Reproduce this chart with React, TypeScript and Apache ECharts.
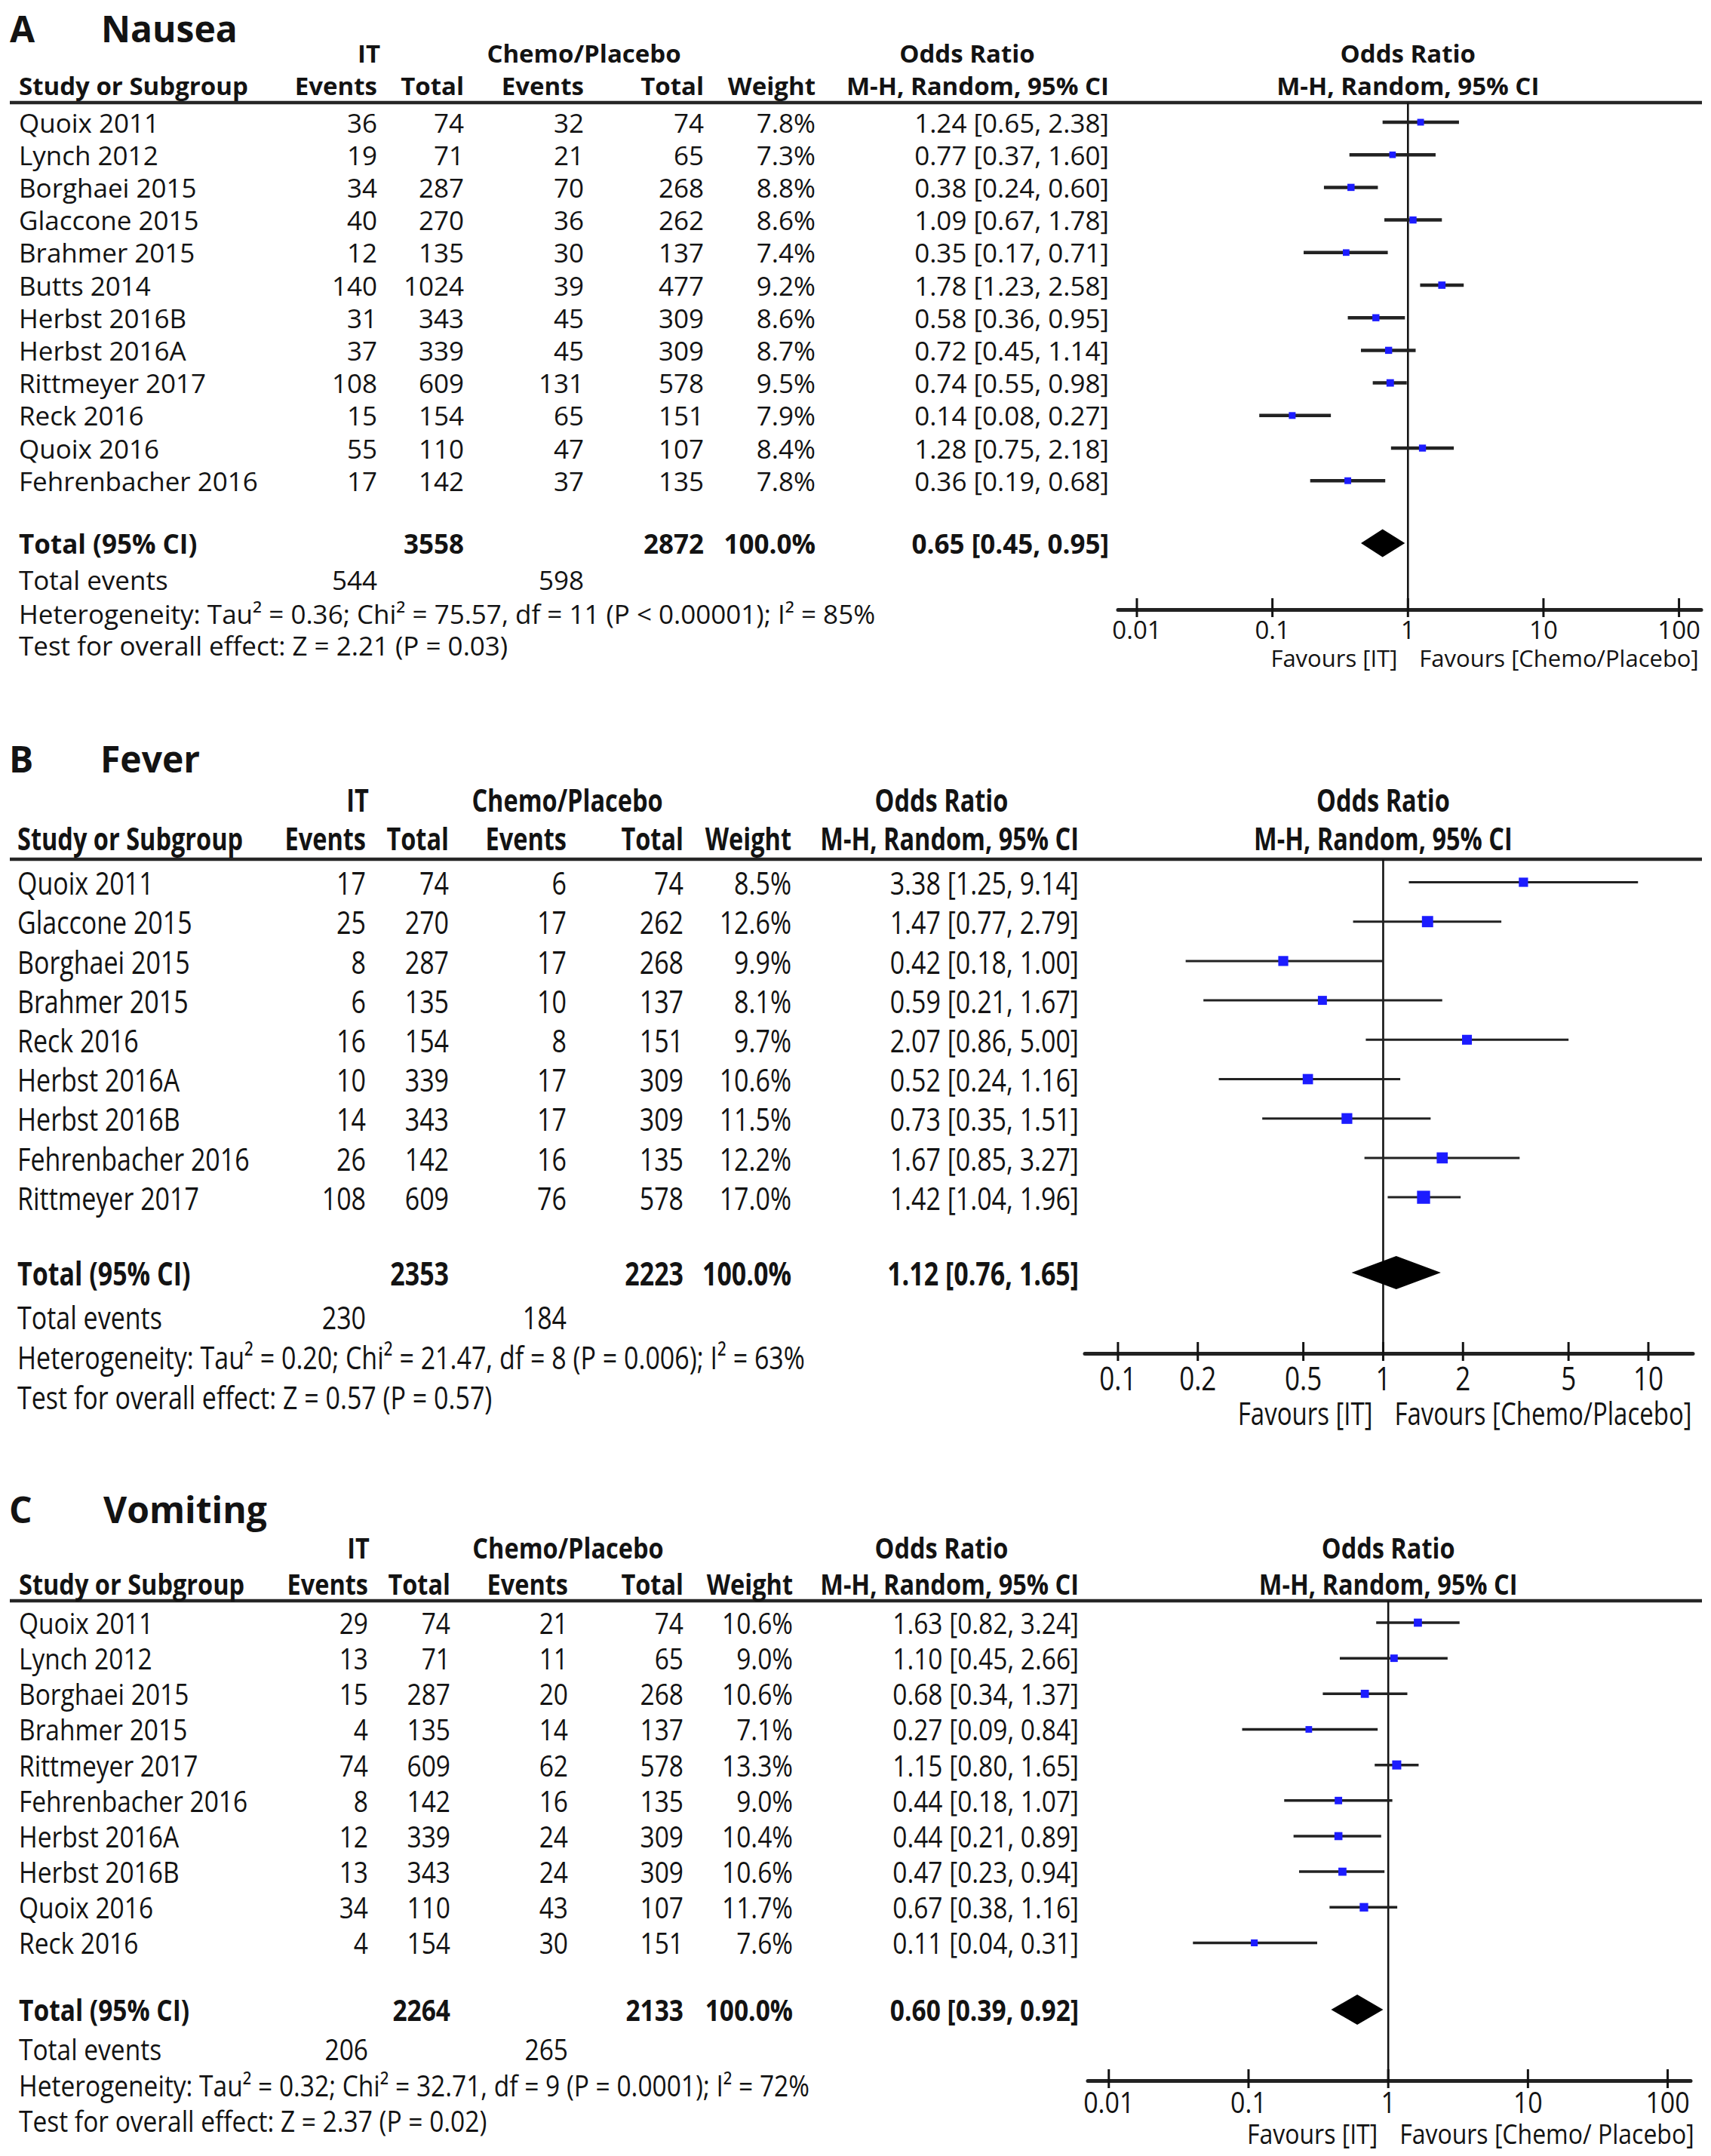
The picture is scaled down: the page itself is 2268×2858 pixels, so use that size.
import React, { useEffect, useRef } from 'react';
import * as echarts from 'echarts';

// ---------------- DATA ----------------
// Panel A: Nausea
const studiesA = ['Quoix 2011', 'Lynch 2012', 'Borghaei 2015', 'Glaccone 2015', 'Brahmer 2015', 'Butts 2014', 'Herbst 2016B', 'Herbst 2016A', 'Rittmeyer 2017', 'Reck 2016', 'Quoix 2016', 'Fehrenbacher 2016'];
const itEventsA = [36, 19, 34, 40, 12, 140, 31, 37, 108, 15, 55, 17];
const itTotalA = [74, 71, 287, 270, 135, 1024, 343, 339, 609, 154, 110, 142];
const chEventsA = [32, 21, 70, 36, 30, 39, 45, 45, 131, 65, 47, 37];
const chTotalA = [74, 65, 268, 262, 137, 477, 309, 309, 578, 151, 107, 135];
const weightA = [7.8, 7.3, 8.8, 8.6, 7.4, 9.2, 8.6, 8.7, 9.5, 7.9, 8.4, 7.8];
const orA = [1.24, 0.77, 0.38, 1.09, 0.35, 1.78, 0.58, 0.72, 0.74, 0.14, 1.28, 0.36];
const loA = [0.65, 0.37, 0.24, 0.67, 0.17, 1.23, 0.36, 0.45, 0.55, 0.08, 0.75, 0.19];
const hiA = [2.38, 1.6, 0.6, 1.78, 0.71, 2.58, 0.95, 1.14, 0.98, 0.27, 2.18, 0.68];
const totalA = [3558, 2872, 100.0];
const totalOrA = [0.65, 0.45, 0.95];
const totalEventsA = [544, 598];
const hetA = 'Heterogeneity: Tau² = 0.36; Chi² = 75.57, df = 11 (P < 0.00001); I² = 85%';
const testA = 'Test for overall effect: Z = 2.21 (P = 0.03)';
const ticksA = [0.01, 0.1, 1, 10, 100];
const tickLabelsA = ['0.01', '0.1', '1', '10', '100'];

// Panel B: Fever
const studiesB = ['Quoix 2011', 'Glaccone 2015', 'Borghaei 2015', 'Brahmer 2015', 'Reck 2016', 'Herbst 2016A', 'Herbst 2016B', 'Fehrenbacher 2016', 'Rittmeyer 2017'];
const itEventsB = [17, 25, 8, 6, 16, 10, 14, 26, 108];
const itTotalB = [74, 270, 287, 135, 154, 339, 343, 142, 609];
const chEventsB = [6, 17, 17, 10, 8, 17, 17, 16, 76];
const chTotalB = [74, 262, 268, 137, 151, 309, 309, 135, 578];
const weightB = [8.5, 12.6, 9.9, 8.1, 9.7, 10.6, 11.5, 12.2, 17.0];
const orB = [3.38, 1.47, 0.42, 0.59, 2.07, 0.52, 0.73, 1.67, 1.42];
const loB = [1.25, 0.77, 0.18, 0.21, 0.86, 0.24, 0.35, 0.85, 1.04];
const hiB = [9.14, 2.79, 1.0, 1.67, 5.0, 1.16, 1.51, 3.27, 1.96];
const totalB = [2353, 2223, 100.0];
const totalOrB = [1.12, 0.76, 1.65];
const totalEventsB = [230, 184];
const hetB = 'Heterogeneity: Tau² = 0.20; Chi² = 21.47, df = 8 (P = 0.006); I² = 63%';
const testB = 'Test for overall effect: Z = 0.57 (P = 0.57)';
const ticksB = [0.1, 0.2, 0.5, 1, 2, 5, 10];
const tickLabelsB = ['0.1', '0.2', '0.5', '1', '2', '5', '10'];

// Panel C: Vomiting
const studiesC = ['Quoix 2011', 'Lynch 2012', 'Borghaei 2015', 'Brahmer 2015', 'Rittmeyer 2017', 'Fehrenbacher 2016', 'Herbst 2016A', 'Herbst 2016B', 'Quoix 2016', 'Reck 2016'];
const itEventsC = [29, 13, 15, 4, 74, 8, 12, 13, 34, 4];
const itTotalC = [74, 71, 287, 135, 609, 142, 339, 343, 110, 154];
const chEventsC = [21, 11, 20, 14, 62, 16, 24, 24, 43, 30];
const chTotalC = [74, 65, 268, 137, 578, 135, 309, 309, 107, 151];
const weightC = [10.6, 9.0, 10.6, 7.1, 13.3, 9.0, 10.4, 10.6, 11.7, 7.6];
const orC = [1.63, 1.1, 0.68, 0.27, 1.15, 0.44, 0.44, 0.47, 0.67, 0.11];
const loC = [0.82, 0.45, 0.34, 0.09, 0.8, 0.18, 0.21, 0.23, 0.38, 0.04];
const hiC = [3.24, 2.66, 1.37, 0.84, 1.65, 1.07, 0.89, 0.94, 1.16, 0.31];
const totalC = [2264, 2133, 100.0];
const totalOrC = [0.6, 0.39, 0.92];
const totalEventsC = [206, 265];
const hetC = 'Heterogeneity: Tau² = 0.32; Chi² = 32.71, df = 9 (P = 0.0001); I² = 72%';
const testC = 'Test for overall effect: Z = 2.37 (P = 0.02)';
const ticksC = [0.01, 0.1, 1, 10, 100];
const tickLabelsC = ['0.01', '0.1', '1', '10', '100'];

const panelData = [
  { letter: 'A', title: 'Nausea', studies: studiesA, itEv: itEventsA, itTot: itTotalA, chEv: chEventsA, chTot: chTotalA, wt: weightA, or: orA, lo: loA, hi: hiA, tot: totalA, totOr: totalOrA, ev: totalEventsA, het: hetA, test: testA, ticks: ticksA, tickLabels: tickLabelsA, favL: 'Favours [IT]', favR: 'Favours [Chemo/Placebo]' },
  { letter: 'B', title: 'Fever', studies: studiesB, itEv: itEventsB, itTot: itTotalB, chEv: chEventsB, chTot: chTotalB, wt: weightB, or: orB, lo: loB, hi: hiB, tot: totalB, totOr: totalOrB, ev: totalEventsB, het: hetB, test: testB, ticks: ticksB, tickLabels: tickLabelsB, favL: 'Favours [IT]', favR: 'Favours [Chemo/Placebo]' },
  { letter: 'C', title: 'Vomiting', studies: studiesC, itEv: itEventsC, itTot: itTotalC, chEv: chEventsC, chTot: chTotalC, wt: weightC, or: orC, lo: loC, hi: hiC, tot: totalC, totOr: totalOrC, ev: totalEventsC, het: hetC, test: testC, ticks: ticksC, tickLabels: tickLabelsC, favL: 'Favours [IT]', favR: 'Favours [Chemo/ Placebo]' },
];

// ---------------- LAYOUT ----------------
const W = 2268;
const H = 2858;
const FONT = '"Open Sans", "Noto Sans", sans-serif';
const INK = '#131313';
const BLUE = '#1c1cff';

const layouts = [
  {
    letterX: 13, titleX: 134, titleY: 37,
    hdr1Y: 70, hdr2Y: 113, lineY: 136, lineX1: 13, lineX2: 2256,
    row0: 162, step: 43.2, totalY: 720, evY: 768, hetY: 813, testY: 855,
    axisY: 808, tickLabY: 834, favY: 872,
    study: 25, itEvX: 500, itTotX: 615, chEvX: 774, chTotX: 933, wtX: 1081, orX: 1470,
    itHdrX: 489, chHdrX: 774, orHdrX: 1282,
    fs: 35, hfs: 33, sy: 1.0, tickFs: 33, favFs: 31,
    gridLeft: 1482, gridRight: 2255, xMin: 0.00726, xMax: 145.8,
    markK: 3.2, whisker: 4.5, diamondH: 37,
  },
  {
    letterX: 12, titleX: 133, titleY: 1005,
    hdr1Y: 1060, hdr2Y: 1111, lineY: 1139, lineX1: 13, lineX2: 2256,
    row0: 1169.5, step: 52.2, totalY: 1687, evY: 1745, hetY: 1798, testY: 1851,
    axisY: 1794, tickLabY: 1826, favY: 1873,
    study: 23, itEvX: 485, itTotX: 595, chEvX: 751, chTotX: 906, wtX: 1049, orX: 1430,
    itHdrX: 474, chHdrX: 752, orHdrX: 1248,
    fs: 34, hfs: 32.5, sy: 1.26, tickFs: 35, favFs: 33,
    gridLeft: 1438, gridRight: 2244, xMin: 0.075, xMax: 14.72,
    markK: 4.2, whisker: 3, diamondH: 44,
  },
  {
    letterX: 12, titleX: 137, titleY: 2000,
    hdr1Y: 2052, hdr2Y: 2100, lineY: 2122, lineX1: 13, lineX2: 2256,
    row0: 2151, step: 47.16, totalY: 2664, evY: 2716, hetY: 2764, testY: 2811,
    axisY: 2758, tickLabY: 2786, favY: 2828,
    study: 25, itEvX: 488, itTotX: 597, chEvX: 753, chTotX: 906, wtX: 1051, orX: 1430,
    itHdrX: 475, chHdrX: 753, orHdrX: 1248,
    fs: 33.5, hfs: 32.5, sy: 1.15, tickFs: 34, favFs: 32,
    gridLeft: 1442, gridRight: 2241, xMin: 0.00708, xMax: 146,
    markK: 3.3, whisker: 3.5, diamondH: 40,
  },
];

const fmtOr = (o: number, l: number, h: number) => `${o.toFixed(2)} [${l.toFixed(2)}, ${h.toFixed(2)}]`;

function textEl(text: string, x: number, y: number, o: any = {}) {
  const align = o.align || 'left';
  return {
    type: 'text',
    x,
    y,
    scaleY: o.sy ?? 1,
    silent: true,
    z: 10,
    style: {
      text,
      x: 0,
      y: 0,
      fill: INK,
      fontFamily: FONT,
      fontSize: o.fs ?? 34,
      fontWeight: o.bold ? 'bold' : 'normal',
      textAlign: align,
      align,
      textVerticalAlign: 'middle',
      verticalAlign: 'middle',
    },
  };
}

function buildOption() {
  const graphics: any[] = [];
  const grids: any[] = [];
  const xAxes: any[] = [];
  const yAxes: any[] = [];
  const series: any[] = [];

  panelData.forEach((d, idx) => {
    const L = layouts[idx];
    const T = (text: string, x: number, y: number, o: any = {}) =>
      graphics.push(textEl(text, x, y, { fs: L.fs, sy: L.sy, ...o }));
    const yMin = (L.lineY - L.row0) / L.step;
    const yMax = (L.axisY - L.row0) / L.step;
    const totalIdx = (L.totalY - L.row0) / L.step;

    // titles
    T(d.letter, L.letterX, L.titleY, { fs: 48, bold: true, sy: 1 });
    T(d.title, L.titleX, L.titleY, { fs: 48, bold: true, sy: 1 });

    // headers
    const hb = { bold: true, fs: L.hfs };
    T('IT', L.itHdrX, L.hdr1Y, { ...hb, align: 'center' });
    T('Chemo/Placebo', L.chHdrX, L.hdr1Y, { ...hb, align: 'center' });
    T('Odds Ratio', L.orHdrX, L.hdr1Y, { ...hb, align: 'center' });
    T('Study or Subgroup', L.study, L.hdr2Y, hb);
    T('Events', L.itEvX, L.hdr2Y, { ...hb, align: 'right' });
    T('Total', L.itTotX, L.hdr2Y, { ...hb, align: 'right' });
    T('Events', L.chEvX, L.hdr2Y, { ...hb, align: 'right' });
    T('Total', L.chTotX, L.hdr2Y, { ...hb, align: 'right' });
    T('Weight', L.wtX, L.hdr2Y, { ...hb, align: 'right' });
    T('M-H, Random, 95% CI', L.orX, L.hdr2Y, { ...hb, align: 'right' });

    graphics.push({
      type: 'line',
      silent: true,
      shape: { x1: L.lineX1, y1: L.lineY, x2: L.lineX2, y2: L.lineY },
      style: { stroke: '#262626', lineWidth: 4.5 },
    });

    // study rows
    d.studies.forEach((s, i) => {
      const y = L.row0 + L.step * i;
      T(s, L.study, y);
      T(String(d.itEv[i]), L.itEvX, y, { align: 'right' });
      T(String(d.itTot[i]), L.itTotX, y, { align: 'right' });
      T(String(d.chEv[i]), L.chEvX, y, { align: 'right' });
      T(String(d.chTot[i]), L.chTotX, y, { align: 'right' });
      T(d.wt[i].toFixed(1) + '%', L.wtX, y, { align: 'right' });
      T(fmtOr(d.or[i], d.lo[i], d.hi[i]), L.orX, y, { align: 'right' });
    });

    // total row
    const tb = { bold: true, align: 'right' };
    T('Total (95% CI)', L.study, L.totalY, { bold: true });
    T(String(d.tot[0]), L.itTotX, L.totalY, tb);
    T(String(d.tot[1]), L.chTotX, L.totalY, tb);
    T(d.tot[2].toFixed(1) + '%', L.wtX, L.totalY, tb);
    T(fmtOr(d.totOr[0], d.totOr[1], d.totOr[2]), L.orX, L.totalY, tb);

    // footer
    T('Total events', L.study, L.evY);
    T(String(d.ev[0]), L.itEvX, L.evY, { align: 'right' });
    T(String(d.ev[1]), L.chEvX, L.evY, { align: 'right' });
    T(d.het, L.study, L.hetY);
    T(d.test, L.study, L.testY);

    // grid & axes
    grids.push({ left: L.gridLeft, top: L.lineY, width: L.gridRight - L.gridLeft, height: L.axisY - L.lineY, containLabel: false });
    xAxes.push({
      type: 'log',
      logBase: 10,
      gridIndex: idx,
      min: L.xMin,
      max: L.xMax,
      axisLine: { show: true, onZero: false, lineStyle: { color: '#222', width: 5 } },
      axisTick: { show: false },
      axisLabel: { show: false },
      splitLine: { show: false },
    });
    yAxes.push({ type: 'value', gridIndex: idx, inverse: true, min: yMin, max: yMax, show: false, splitLine: { show: false } });

    // reference line at OR = 1 + plot headers + favours labels
    series.push({
      type: 'custom',
      xAxisIndex: idx,
      yAxisIndex: idx,
      clip: false,
      silent: true,
      data: [[1, yMin]],
      encode: { x: 0, y: 1 },
      renderItem: (params: any, api: any) => {
        const top = api.coord([1, yMin]);
        const bot = api.coord([1, yMax]);
        const x = top[0];
        const mk = (text: string, tx: number, ty: number, o: any) => textEl(text, tx, ty, { sy: L.sy, ...o });
        return {
          type: 'group',
          children: [
            { type: 'line', shape: { x1: x, y1: top[1], x2: x, y2: bot[1] }, style: { stroke: INK, lineWidth: 2.6 } },
            mk('Odds Ratio', x, L.hdr1Y, { bold: true, fs: L.hfs, align: 'center' }),
            mk('M-H, Random, 95% CI', x, L.hdr2Y, { bold: true, fs: L.hfs, align: 'center' }),
            mk(d.favL, x - 14, L.favY, { fs: L.favFs, align: 'right' }),
            mk(d.favR, x + 15, L.favY, { fs: L.favFs, align: 'left' }),
          ],
        };
      },
    });

    // axis ticks and labels
    series.push({
      type: 'custom',
      xAxisIndex: idx,
      yAxisIndex: idx,
      clip: false,
      silent: true,
      data: d.ticks.map((v, k) => [v, yMax, k]),
      encode: { x: 0, y: 1 },
      renderItem: (params: any, api: any) => {
        const p = api.coord([api.value(0), yMax]);
        const k = api.value(2);
        return {
          type: 'group',
          children: [
            { type: 'line', shape: { x1: p[0], y1: p[1] - 15, x2: p[0], y2: p[1] + 10 }, style: { stroke: INK, lineWidth: 3 } },
            textEl(d.tickLabels[k], p[0], L.tickLabY, { fs: L.tickFs, sy: L.sy, align: 'center' }),
          ],
        };
      },
    });

    // study estimates
    series.push({
      type: 'custom',
      xAxisIndex: idx,
      yAxisIndex: idx,
      clip: false,
      silent: true,
      data: d.studies.map((s, i) => [d.or[i], i, d.lo[i], d.hi[i], d.wt[i]]),
      encode: { x: 0, y: 1 },
      renderItem: (params: any, api: any) => {
        const y = api.value(1);
        const p = api.coord([api.value(0), y]);
        const pl = api.coord([api.value(2), y]);
        const ph = api.coord([api.value(3), y]);
        const s = L.markK * Math.sqrt(api.value(4));
        return {
          type: 'group',
          children: [
            { type: 'line', shape: { x1: pl[0], y1: p[1], x2: ph[0], y2: p[1] }, style: { stroke: '#222', lineWidth: L.whisker } },
            { type: 'rect', shape: { x: p[0] - s / 2, y: p[1] - s / 2, width: s, height: s }, style: { fill: BLUE } },
          ],
        };
      },
    });

    // pooled diamond
    series.push({
      type: 'custom',
      xAxisIndex: idx,
      yAxisIndex: idx,
      clip: false,
      silent: true,
      data: [[d.totOr[0], totalIdx, d.totOr[1], d.totOr[2]]],
      encode: { x: 0, y: 1 },
      renderItem: (params: any, api: any) => {
        const y = api.value(1);
        const p = api.coord([api.value(0), y]);
        const pl = api.coord([api.value(2), y]);
        const ph = api.coord([api.value(3), y]);
        const h = L.diamondH / 2;
        return {
          type: 'polygon',
          shape: { points: [[pl[0], p[1]], [p[0], p[1] - h], [ph[0], p[1]], [p[0], p[1] + h]] },
          style: { fill: '#000' },
        };
      },
    });
  });

  return {
    animation: false,
    backgroundColor: '#ffffff',
    grid: grids,
    xAxis: xAxes,
    yAxis: yAxes,
    series,
    graphic: { elements: graphics },
  };
}

export default function App() {
  const ref = useRef<HTMLDivElement>(null);
  useEffect(() => {
    if (!ref.current) return;
    const chart = echarts.init(ref.current, null, { renderer: 'svg', width: W, height: H });
    chart.setOption(buildOption() as any);
    return () => chart.dispose();
  }, []);
  return <div ref={ref} style={{ position: 'absolute', left: 0, top: 0, width: W, height: H, background: '#fff' }} />;
}
